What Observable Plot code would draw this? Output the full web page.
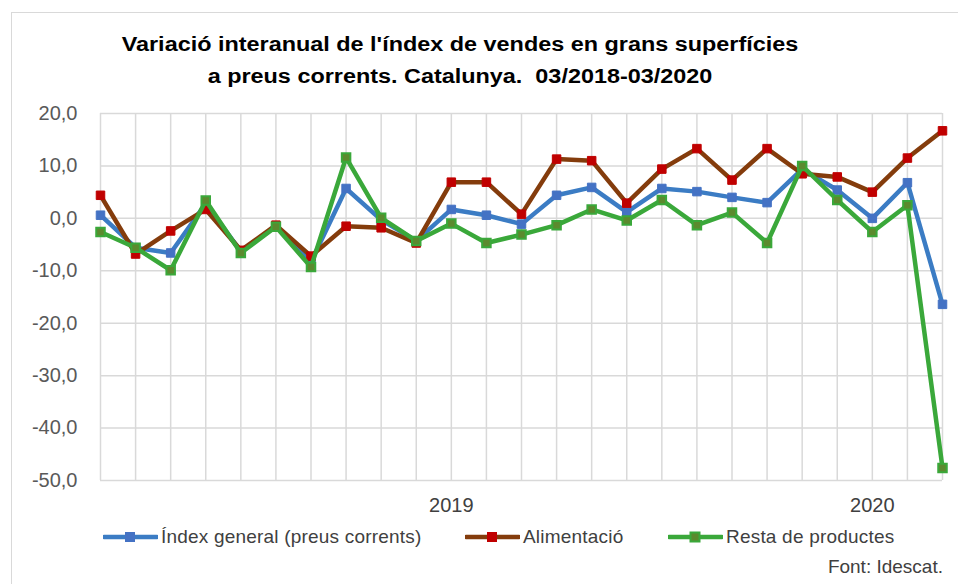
<!DOCTYPE html>
<html>
<head>
<meta charset="utf-8">
<script src="https://cdn.jsdelivr.net/npm/d3@7"></script>
<script src="https://cdn.jsdelivr.net/npm/@observablehq/plot@0.6"></script>
<style>
  html, body { margin: 0; padding: 0; background: #fff; }
  #wrap { position: relative; width: 958px; height: 584px; overflow: hidden; font-family: "Liberation Sans", Arial, sans-serif; }
  #border { position: absolute; left: 11px; top: 12px; width: 1000px; height: 700px; border: 1.5px solid #d9d9d9; box-sizing: border-box; }
  #chart { position: absolute; left: 0; top: 0; }
  #title { position: absolute; left: 0; width: 920px; top: 28px; text-align: center; font-weight: bold; font-size: 20px; line-height: 32px; color: #000; transform: scaleX(1.17); transform-origin: 460px 0; }
  .leg { position: absolute; top: 526px; font-size: 19px; letter-spacing: 0.2px; color: #404040; white-space: nowrap; display: flex; align-items: center; }
  .leg svg { margin-right: 3px; }
  #source { position: absolute; right: 15px; top: 556px; font-size: 19px; color: #404040; }
</style>
</head>
<body>
<div id="wrap">
  <div id="border"></div>
  <div id="chart"></div>
  <div id="title">Variació interanual de l'índex de vendes en grans superfícies<br>a preus corrents. Catalunya.&nbsp; 03/2018-03/2020</div>
  <div id="source">Font: Idescat.</div>
</div>
<script>
// Months 03/2018 .. 03/2020
const months = ["03/2018","04/2018","05/2018","06/2018","07/2018","08/2018","09/2018","10/2018","11/2018","12/2018",
  "01/2019","02/2019","03/2019","04/2019","05/2019","06/2019","07/2019","08/2019","09/2019","10/2019","11/2019","12/2019",
  "01/2020","02/2020","03/2020"];
const indexGeneral = [0.6,-5.6,-6.6,2.8,-6.3,-1.5,-8.3,5.7,-0.3,-4.3,1.7,0.6,-1.1,4.4,5.9,1.2,5.7,5.1,4.0,3.0,9.4,5.4,0.0,6.8,-16.4];
const alimentacio = [4.4,-6.8,-2.4,1.7,-6.1,-1.3,-7.2,-1.5,-1.8,-4.7,6.9,6.9,0.8,11.3,11.0,2.9,9.4,13.3,7.3,13.3,8.5,7.9,5.0,11.5,16.7];
const restaProductes = [-2.6,-5.6,-9.9,3.4,-6.6,-1.6,-9.3,11.6,0.1,-4.3,-1.0,-4.7,-3.1,-1.3,1.7,-0.4,3.5,-1.3,1.1,-4.7,10.0,3.5,-2.6,2.5,-47.6];
const seriesNames = ["Índex general (preus corrents)", "Alimentació", "Resta de productes"];
const yTicks = [-50,-40,-30,-20,-10,0,10,20];
const yearLabels = [{m: "01/2019", label: "2019"}, {m: "01/2020", label: "2020"}];

const lineColors = ["#3b7cc4", "#843c0c", "#3aa83a"];
const markColors = ["#4472c4", "#c00000", "#5b8a2e"];

const seriesValues = [indexGeneral, alimentacio, restaProductes];
const data = seriesNames.flatMap((s, k) => months.map((m, i) => ({series: s, k, i, value: seriesValues[k][i]})));
const idx = months.map((m, i) => i);
const yearTicks = yearLabels.map(d => months.indexOf(d.m));

const fmt = d => d.toFixed(1).replace(".", ",");

const marks = [
  Plot.gridY(yTicks, {stroke: "#d9d9d9", strokeOpacity: 1, strokeWidth: 1.5}),
  Plot.ruleX(idx, {x: d => d, y1: -50, y2: 20, stroke: "#d9d9d9", strokeWidth: 1.5}),
  Plot.axisY(yTicks, {tickSize: 0, tickPadding: 23, tickFormat: fmt, fontSize: 20, fill: "#595959", label: null}),
  Plot.axisX(yearTicks, {tickSize: 0, tickPadding: 17, tickFormat: d => yearLabels[yearTicks.indexOf(d)].label, fontSize: 20, fill: "#404040", label: null})
];
seriesNames.forEach((s, k) => {
  const sd = data.filter(d => d.k === k);
  marks.push(Plot.line(sd, {x: "i", y: "value", stroke: lineColors[k], strokeWidth: 4.5, strokeLinejoin: "round"}));
  marks.push(Plot.dot(sd, {x: "i", y: "value", symbol: "square", r: 4.8, fill: markColors[k], stroke: k === 2 ? lineColors[2] : markColors[k], strokeWidth: k === 2 ? 2 : 1}));
});

const chart = Plot.plot({
  width: 958,
  height: 584,
  marginLeft: 100,
  marginRight: 16,
  marginTop: 113,
  marginBottom: 104,
  x: {domain: [0, months.length - 1], axis: null, label: null},
  y: {domain: [-50, 20], axis: null, label: null},
  style: {background: "transparent", fontFamily: "'Liberation Sans', Arial, sans-serif"},
  marks
});
document.getElementById("chart").appendChild(chart);

// Legend
const legPos = [103, 465, 668];
const wrap = document.getElementById("wrap");
seriesNames.forEach((s, k) => {
  const div = document.createElement("div");
  div.className = "leg";
  div.style.left = legPos[k] + "px";
  div.innerHTML = `<svg width="55" height="14"><line x1="1" x2="54" y1="7" y2="7" stroke="${lineColors[k]}" stroke-width="4.5" stroke-linecap="round"/><rect x="22.5" y="2.5" width="9" height="9" fill="${markColors[k]}" stroke="${k === 2 ? lineColors[2] : markColors[k]}" stroke-width="${k === 2 ? 2 : 1}"/></svg><span>${s}</span>`;
  wrap.appendChild(div);
});
</script>
</body>
</html>
